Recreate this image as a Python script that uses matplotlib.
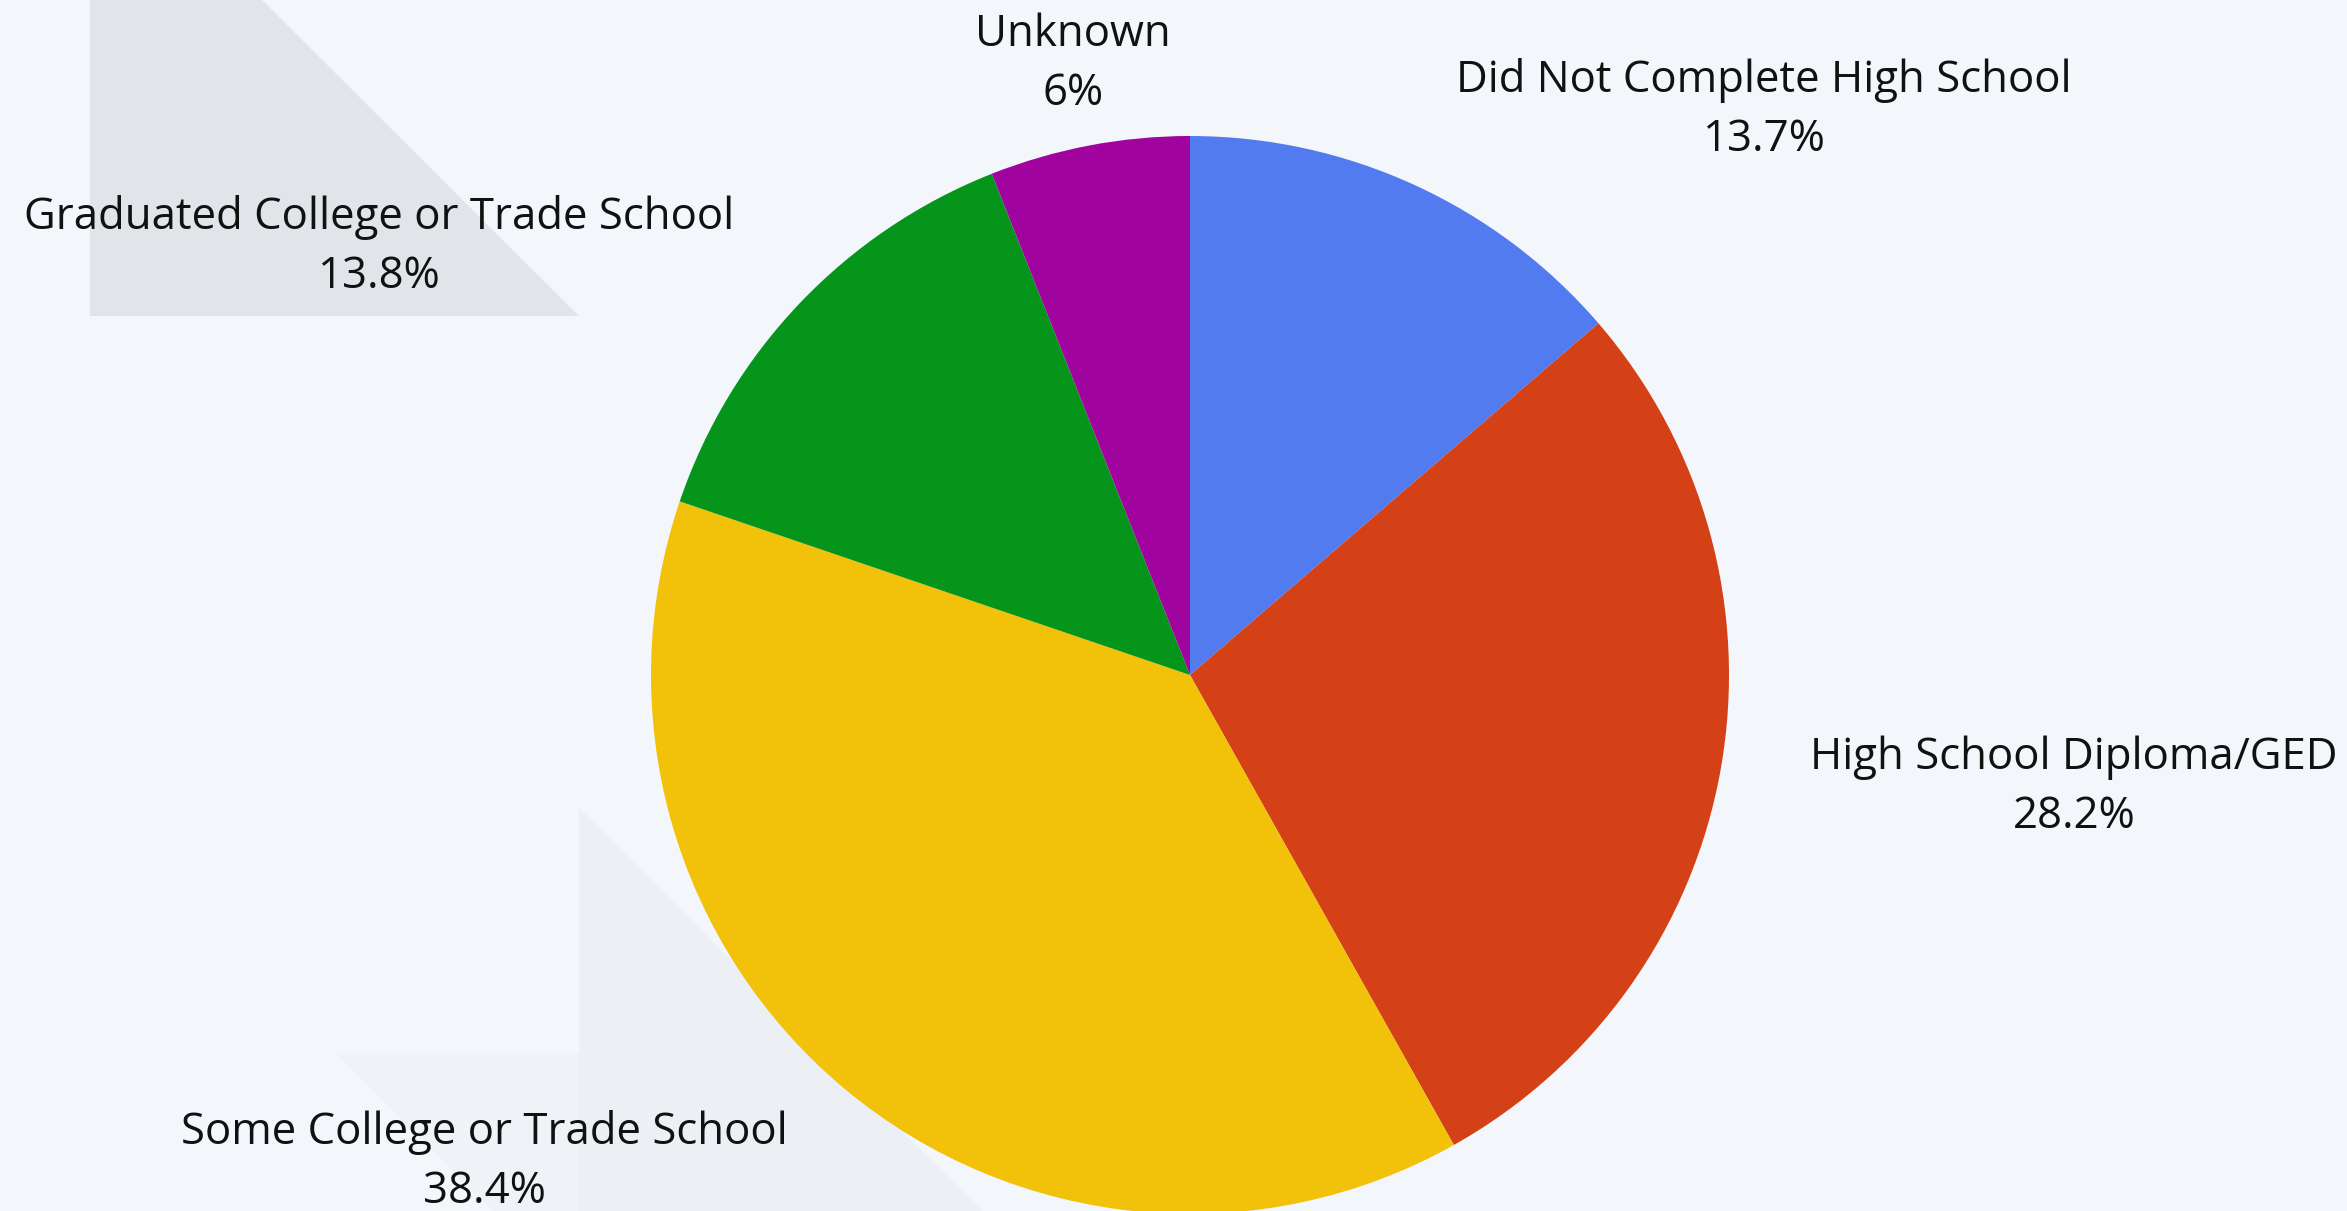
import matplotlib
matplotlib.use("Agg")
from matplotlib import pyplot as plt
from matplotlib.patches import Polygon
import numpy as np

# Daten
categories = ["Did Not Complete High School", "High School Diploma/GED",
              "Some College or Trade School", "Graduated College or Trade School",
              "Unknown"]
shares = [13.7, 28.2, 38.4, 13.8, 6]
colors = ["#537BF0", "#D44116", "#F2C109", "#05951B", "#A1039F"]

# Label-Positionen in Pixel (x, y von oben)
label_pos = [(1764, 110), (2074, 787), (484, 1162), (379, 247), (1073, 64)]

W, H = 2347, 1211
bg = "#F3F6FA"

fig = plt.figure(figsize=(W / 100, H / 100), dpi=100)
fig.patch.set_facecolor(bg)

# Hintergrund-Deko
ax_bg = fig.add_axes([0, 0, 1, 1])
ax_bg.set_xlim(0, W)
ax_bg.set_ylim(H, 0)
ax_bg.axis("off")
ax_bg.add_patch(Polygon([(90, 0), (262, 0), (579, 316), (90, 316)],
                        closed=True, facecolor="#E1E4E9", edgecolor="none"))
ax_bg.add_patch(Polygon([(579, 808), (982, 1211), (579, 1211)],
                        closed=True, facecolor="#ECF0F5", edgecolor="none"))
ax_bg.add_patch(Polygon([(335, 1053), (579, 1053), (579, 1211), (493, 1211)],
                        closed=True, facecolor="#EFF3F8", edgecolor="none"))

# Kuchen
cx, cy, r = 1190, 675, 539
ax = fig.add_axes([(cx - r) / W, (H - cy - r) / H, 2 * r / W, 2 * r / H])
ax.pie(shares, colors=colors, startangle=90, counterclock=False,
       radius=1, wedgeprops=dict(linewidth=0))
ax.set_xlim(-1, 1)
ax.set_ylim(-1, 1)
ax.set_aspect("equal")
ax.axis("off")

# Beschriftungen
for name, val, (px, py) in zip(categories, shares, label_pos):
    fig.text(px / W, 1 - py / H, f"{name}\n{val:g}%",
             ha="center", va="center", fontsize=31.5, linespacing=1.42,
             family="Open Sans", color="#111111")

fig.savefig("out.png", dpi=100, facecolor=bg)
